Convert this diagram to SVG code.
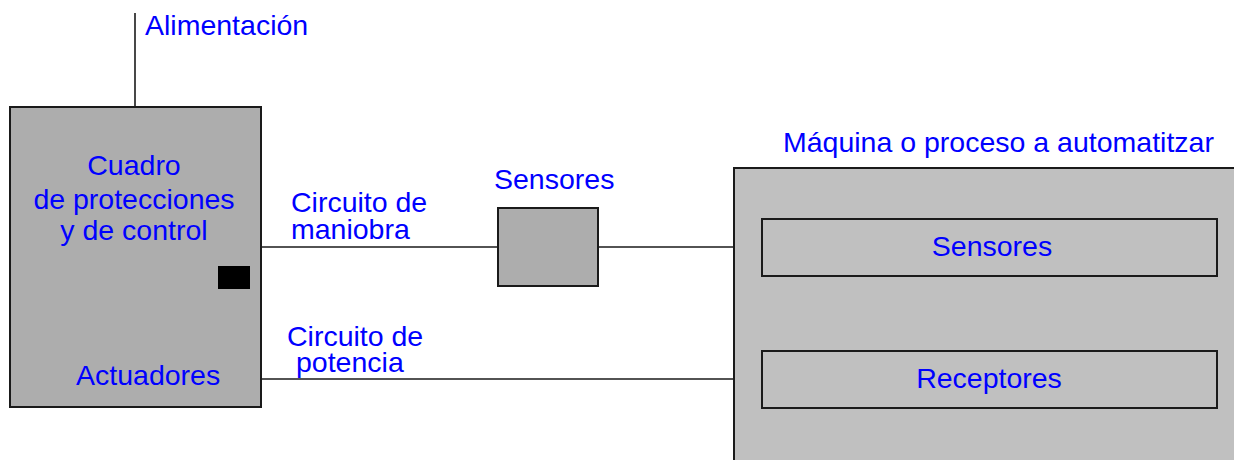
<svg xmlns="http://www.w3.org/2000/svg" width="1234" height="460" viewBox="0 0 1234 460">
<style>
text{font-family:"Liberation Sans",Arial,sans-serif;font-size:28.5px;fill:#0000ff}
.box{stroke:#1a1a1a;stroke-width:2}
.wire{stroke:#1a1a1a;stroke-width:1.6;fill:none}
.c{text-anchor:middle}
</style>
<rect width="1234" height="460" fill="#ffffff"/>
<g id="connectors">
<line class="wire" x1="135" y1="13" x2="135" y2="107"/>
<line class="wire" x1="261" y1="247" x2="498" y2="247"/>
<line class="wire" x1="598" y1="247" x2="734" y2="247"/>
<line class="wire" x1="261" y1="379" x2="734" y2="379"/>
</g>
<g id="alimentacion-label"><text x="145" y="35">Alimentación</text></g>
<g id="cuadro">
<rect class="box" x="10" y="107" width="251" height="300" fill="#adadad"/>
<text class="c" x="134" y="175">Cuadro</text>
<text class="c" x="134" y="209">de protecciones</text>
<text class="c" x="134" y="240">y de control</text>
<rect x="218" y="266" width="32" height="23" fill="#000000"/>
<text x="76" y="385">Actuadores</text>
</g>
<g id="label-maniobra">
<text x="291" y="212">Circuito de</text>
<text x="291" y="239">maniobra</text>
</g>
<g id="label-potencia">
<text x="287" y="346">Circuito de</text>
<text x="296" y="372">potencia</text>
</g>
<g id="sensores-ext">
<text x="494" y="189">Sensores</text>
<rect class="box" x="498" y="208" width="100" height="78" fill="#adadad"/>
</g>
<g id="maquina">
<text x="783" y="152">Máquina o proceso a automatitzar</text>
<rect class="box" x="734" y="168" width="520" height="320" fill="#c0c0c0"/>
</g>
<g id="maq-sensores">
<rect class="box" x="762" y="219" width="455" height="57" fill="#c0c0c0"/>
<text class="c" x="992" y="256">Sensores</text>
</g>
<g id="maq-receptores">
<rect class="box" x="762" y="351" width="455" height="57" fill="#c0c0c0"/>
<text class="c" x="989" y="388">Receptores</text>
</g>
</svg>
